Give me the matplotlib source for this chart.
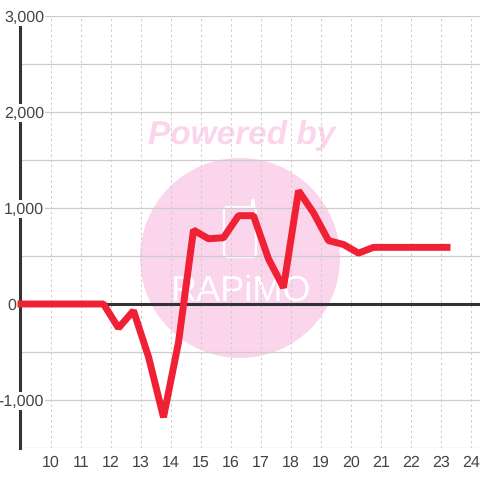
import matplotlib
matplotlib.use("Agg")
import matplotlib.pyplot as plt
from matplotlib.patches import Circle, FancyBboxPatch

plt.rcParams['font.family'] = ['Liberation Sans', 'DejaVu Sans']
plt.rcParams['text.hinting'] = 'no_hinting'

hours = [9.0, 11.75, 12.25, 12.75, 13.25, 13.75, 14.25, 14.75, 15.25, 15.75, 16.25, 16.75,
         17.25, 17.75, 18.25, 18.75, 19.25, 19.75, 20.25, 20.75, 21.25, 21.75, 22.25, 22.75, 23.2]
values = [0, 0, -250, -70, -550, -1180, -400, 770, 680, 690, 920, 920,
          470, 170, 1180, 950, 660, 620, 530, 590, 590, 590, 590, 590, 590]
x_ticks = list(range(10, 25))
y_major = [-1000, 0, 1000, 2000, 3000]
y_labels = ['-1,000', '0', '1,000', '2,000', '3,000']
y_minor = [-1500, -500, 500, 1500, 2500]

GRID = '#cccccc'
DARK = '#333333'
TEXT = '#444444'
RED = '#f02035'
PINK = '#fbd5ec'

fig = plt.figure(figsize=(4.8, 4.8), dpi=100)

bg = fig.add_axes([0, 0, 1, 1], zorder=0)
bg.set_xlim(0, 480)
bg.set_ylim(480, 0)
bg.axis('off')
bg.add_patch(Circle((240, 258), 100, fc=PINK, ec='none'))
bg.text(242, 135.5, 'Powered by', weight='bold', style='italic',
        fontsize=24, color=PINK, ha='center', va='center')
bg.add_patch(FancyBboxPatch((224, 207), 32, 50, boxstyle='round,pad=0,rounding_size=4',
                            fc='none', ec='white', lw=1.6))
bg.plot([253, 253], [207, 201], color='white', lw=3, solid_capstyle='round')
bg.text(240, 291, 'RAPiMO', fontsize=26, color='white', ha='center', va='center')

ax = fig.add_axes([20/480, 32/480, 460/480, 432/480], zorder=1)
ax.patch.set_alpha(0)
x0 = 10 + (20 - 51) / 30
x1 = 10 + (480 - 51) / 30
ax.set_xlim(x0, x1)
ax.set_ylim(-1500, 3000)
for s in ax.spines.values():
    s.set_visible(False)

for t in x_ticks:
    ax.axvline(t, color=GRID, lw=0.75, dashes=(2.2, 2.8), zorder=1)
for v in y_major + y_minor:
    if v != 0:
        ax.axhline(v, color=GRID, lw=0.9, zorder=1)
ax.axvline(x0, color=DARK, lw=2.2, zorder=2, clip_on=False)
ax.axhline(0, color=DARK, lw=2.2, zorder=2)

ax.plot(hours, values, color=RED, lw=5, solid_joinstyle='bevel',
        solid_capstyle='projecting', zorder=7, clip_on=False)

ax.set_xticks(x_ticks)
ax.set_xticklabels([str(t) for t in x_ticks], fontsize=11.5, color=TEXT)
ax.tick_params(axis='x', length=0, pad=5)
ax.set_yticks([])
trans = ax.get_yaxis_transform()
for v, lab in zip(y_major, y_labels):
    if v == 0:
        ax.annotate(lab, (0, v), xycoords=trans, xytext=(-3, -1), textcoords='offset points',
                    ha='right', va='center', fontsize=11.5, color=TEXT, annotation_clip=False)
    else:
        ax.annotate(lab, ((44 - 20) / 460, v), xycoords=trans, xytext=(0, -1),
                    textcoords='offset points', ha='right', va='center', fontsize=11.5,
                    color=TEXT, zorder=6, annotation_clip=False,
                    bbox=dict(fc='white', ec='none', pad=1.0))

fig.savefig('out.png', dpi=100)
